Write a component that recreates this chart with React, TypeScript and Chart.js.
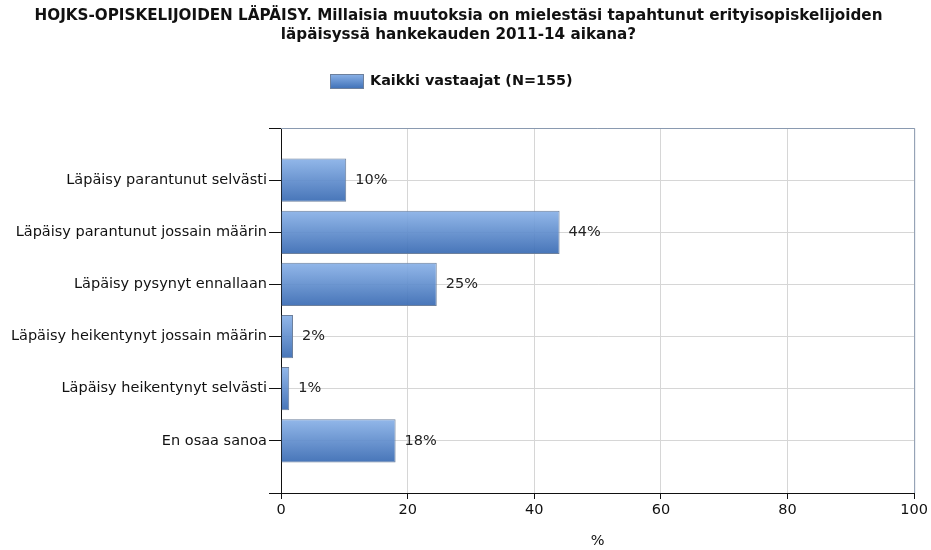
import React, { useEffect, useRef } from "react";
import { Chart, registerables } from "chart.js";

Chart.register(...registerables);

const TITLE_LINES = [
  "HOJKS-OPISKELIJOIDEN LÄPÄISY. Millaisia muutoksia on mielestäsi tapahtunut erityisopiskelijoiden",
  "läpäisyssä hankekauden 2011-14 aikana?",
];
const SERIES_NAME = "Kaikki vastaajat (N=155)";
const CATEGORIES = [
  "Läpäisy parantunut selvästi",
  "Läpäisy parantunut jossain määrin",
  "Läpäisy pysynyt ennallaan",
  "Läpäisy heikentynyt jossain määrin",
  "Läpäisy heikentynyt selvästi",
  "En osaa sanoa",
];
const VALUES = [10.3, 44.0, 24.6, 1.9, 1.3, 18.1];
const VALUE_LABELS = ["10%", "44%", "25%", "2%", "1%", "18%"];
const X_TICKS = [0, 20, 40, 60, 80, 100];
const X_TITLE = "%";

const FONT = "'DejaVu Sans', Verdana, sans-serif";

export default function App() {
  const ref = useRef<HTMLCanvasElement | null>(null);

  useEffect(() => {
    if (!ref.current) return;
    const labels = ["", ...CATEGORIES, ""];
    const data: (number | null)[] = [null, ...VALUES, null];

    const decorPlugin = {
      id: "decor",
      beforeDatasetsDraw(chart: any) {
        const { ctx, chartArea } = chart;
        ctx.save();
        ctx.strokeStyle = "#8a9ab0";
        ctx.lineWidth = 1;
        ctx.beginPath();
        ctx.moveTo(chartArea.left, chartArea.top + 0.5);
        ctx.lineTo(chartArea.right + 0.5, chartArea.top + 0.5);
        ctx.lineTo(chartArea.right + 0.5, chartArea.bottom);
        ctx.stroke();
        ctx.restore();
      },
      afterDatasetsDraw(chart: any) {
        const { ctx } = chart;
        const meta = chart.getDatasetMeta(0);
        ctx.save();
        ctx.font = `14.5px ${FONT}`;
        ctx.fillStyle = "#222";
        ctx.textBaseline = "middle";
        ctx.textAlign = "left";
        meta.data.forEach((el: any, i: number) => {
          const v = data[i];
          if (v === null || v === undefined) return;
          ctx.fillText(VALUE_LABELS[i - 1], el.x + 9, el.y);
        });
        ctx.restore();
      },
      afterDraw(chart: any) {
        const { ctx } = chart;
        ctx.save();
        ctx.fillStyle = "#111";
        ctx.font = `bold 15.2px ${FONT}`;
        ctx.textAlign = "center";
        ctx.textBaseline = "middle";
        ctx.fillText(TITLE_LINES[0], 458.5, 16);
        ctx.fillText(TITLE_LINES[1], 458.5, 35);
        // legend
        const bx = 330, by = 74, bw = 34, bh = 15;
        const g = ctx.createLinearGradient(0, by, 0, by + bh);
        g.addColorStop(0, "#8cb3e8");
        g.addColorStop(1, "#3d6fb6");
        ctx.fillStyle = g;
        ctx.fillRect(bx, by, bw, bh);
        ctx.strokeStyle = "#6d809c";
        ctx.lineWidth = 1;
        ctx.strokeRect(bx + 0.5, by + 0.5, bw - 1, bh - 1);
        ctx.fillStyle = "#111";
        ctx.textAlign = "left";
        ctx.font = `bold 14.4px ${FONT}`;
        ctx.fillText(SERIES_NAME, 370, 81);
        ctx.restore();
      },
    };

    const chart = new Chart(ref.current, {
      type: "bar",
      data: {
        labels,
        datasets: [
          {
            label: SERIES_NAME,
            data,
            backgroundColor: (c: any) => {
              const chartObj = c.chart;
              const ys = chartObj.scales && chartObj.scales.y;
              if (!ys || c.dataIndex === undefined || !chartObj.chartArea) return "#6690cf";
              const y = ys.getPixelForValue(c.dataIndex);
              const h = 22;
              const g = chartObj.ctx.createLinearGradient(0, y - h, 0, y + h);
              g.addColorStop(0, "rgba(138,178,232,0.92)");
              g.addColorStop(1, "rgba(55,105,178,0.92)");
              return g;
            },
            borderColor: "#6d809c",
            borderWidth: 1,
            categoryPercentage: 1,
            barPercentage: 0.83,
          },
        ],
      },
      options: {
        indexAxis: "y",
        animation: false,
        responsive: false,
        maintainAspectRatio: false,
        layout: { padding: { top: 128, left: 0, right: 16, bottom: 0 } },
        plugins: {
          legend: { display: false },
          title: { display: false },
          tooltip: { enabled: false },
        },
        scales: {
          x: {
            min: 0,
            max: 100,
            afterBuildTicks: (s: any) => {
              s.ticks = X_TICKS.map((v) => ({ value: v }));
            },
            afterFit: (s: any) => {
              s.height = 57;
            },
            ticks: {
              color: "#111",
              font: { family: FONT, size: 14.5 },
              padding: 3,
            },
            grid: {
              color: "#d6d6d6",
              tickColor: "#111",
              tickLength: 6,
            },
            border: { color: "#111", width: 1 },
            title: {
              display: true,
              text: X_TITLE,
              color: "#111",
              font: { family: FONT, size: 14.5 },
              padding: { top: 6, bottom: 0 },
            },
          },
          y: {
            type: "category",
            offset: false,
            afterFit: (s: any) => {
              s.width = 281;
            },
            ticks: {
              color: "#111",
              font: { family: FONT, size: 14.5 },
              padding: 2,
              autoSkip: false,
            },
            grid: {
              offset: false,
              color: "#d6d6d6",
              tickColor: "#111",
              tickLength: 12,
            },
            border: { color: "#111", width: 1 },
          },
        },
      },
      plugins: [decorPlugin],
    } as any);
    return () => chart.destroy();
  }, []);

  return (
    <div style={{ position: "absolute", left: 0, top: 0, width: 931, height: 550, background: "#fff" }}>
      <canvas ref={ref} width={931} height={550} style={{ width: 931, height: 550 }} />
    </div>
  );
}
